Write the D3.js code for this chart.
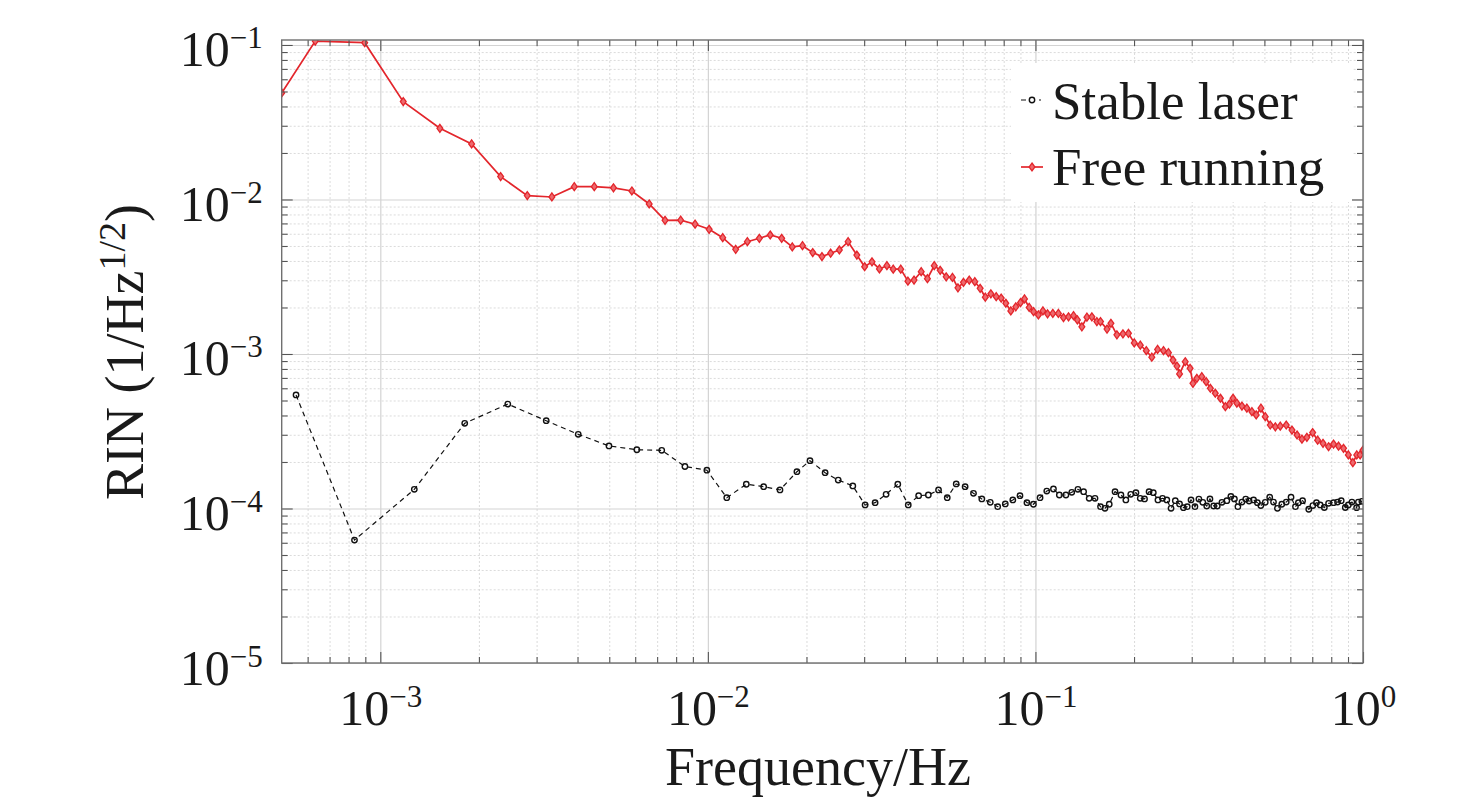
<!DOCTYPE html>
<html>
<head>
<meta charset="utf-8">
<script src="https://cdn.jsdelivr.net/npm/d3@7"></script>
<style>
html, body { margin: 0; padding: 0; background: #fff; overflow: hidden; }
svg { display: block; overflow: visible; }
text { font-family: "Liberation Serif", "Times New Roman", serif; fill: #1a1a1a; }
</style>
</head>
<body>
<script>
// values
var freeFreq = [5.0e-4, 6.33e-4, 8.96e-4, 1.175e-3, 1.52e-3, 1.90e-3, 2.33e-3, 2.81e-3, 3.34e-3, 3.91e-3,
    4.50e-3, 5.15e-3, 5.86e-3, 6.62e-3, 7.40e-3, 8.26e-3, 9.14e-3, 1.009e-2, 1.11e-2, 1.216e-2,
    1.32e-2, 1.436e-2, 1.55e-2, 1.68e-2, 1.81e-2, 1.945e-2, 2.09e-2, 2.23e-2, 2.37e-2, 2.52e-2,
    2.68e-2, 2.85e-2, 3.01e-2, 3.17e-2, 3.34e-2, 3.52e-2, 3.68e-2, 3.88e-2, 4.08e-2, 4.26e-2,
    4.48e-2, 4.68e-2, 4.91e-2, 5.12e-2, 5.34e-2, 5.58e-2, 5.80e-2, 6.03e-2, 6.28e-2, 6.53e-2,
    6.78e-2, 7.03e-2, 7.31e-2, 7.59e-2, 7.86e-2, 8.12e-2, 8.41e-2, 8.71e-2, 9.00e-2, 9.26e-2,
    9.57e-2, 9.87e-2, 0.1021, 0.1054, 0.1089, 0.1130, 0.1175, 0.1218, 0.1262, 0.1307,
    0.1343, 0.1386, 0.1436, 0.1487, 0.154, 0.158, 0.1654, 0.170, 0.1773, 0.185,
    0.1923, 0.2003, 0.209, 0.218, 0.2266, 0.236, 0.246, 0.2547, 0.263, 0.2704,
    0.2754, 0.2866, 0.2966, 0.3026, 0.311, 0.322, 0.332, 0.342, 0.354, 0.367,
    0.380, 0.391, 0.401, 0.412, 0.427, 0.442, 0.458, 0.472, 0.488, 0.503,
    0.521, 0.540, 0.559, 0.583, 0.607, 0.629, 0.651, 0.674, 0.702, 0.727,
    0.755, 0.785, 0.813, 0.842, 0.872, 0.902, 0.931, 0.957, 0.98, 1.0];
var freeRIN = [0.0489, 0.106, 0.1035, 0.0430, 0.0289, 0.0229, 0.01406, 0.0106, 0.01038, 0.01211,
    0.0121, 0.0119, 0.01135, 0.00935, 0.00733, 0.00735, 0.00692, 0.00641, 0.00566, 0.00476,
    0.00533, 0.00561, 0.00589, 0.00561, 0.00493, 0.00502, 0.00453, 0.00427, 0.00449, 0.00471,
    0.00533, 0.00437, 0.00367, 0.00395, 0.00355, 0.00373, 0.00354, 0.00354, 0.00296, 0.00301,
    0.00341, 0.00307, 0.00373, 0.00348, 0.00316, 0.00313, 0.00268, 0.00291, 0.00301, 0.00294,
    0.00266, 0.00233, 0.00245, 0.00235, 0.00230, 0.00213, 0.00190, 0.00202, 0.00215, 0.00227,
    0.00200, 0.00188, 0.00179, 0.00190, 0.00182, 0.00183, 0.00183, 0.00172, 0.00174, 0.00177,
    0.00166, 0.00150, 0.00173, 0.00174, 0.00162, 0.00162, 0.00145, 0.00158, 0.00133, 0.00135,
    0.00136, 0.00118, 0.00114, 0.00105, 0.000953, 0.00107, 0.00105, 0.00102, 0.000914, 0.000836,
    0.000743, 0.000891, 0.000808, 0.000646, 0.000696, 0.000713, 0.000662, 0.000600, 0.000557, 0.000517,
    0.000456, 0.000474, 0.000517, 0.000480, 0.000460, 0.000446, 0.000423, 0.000403, 0.000446, 0.000393,
    0.000347, 0.000338, 0.000341, 0.000347, 0.000322, 0.000299, 0.000281, 0.000289, 0.000310, 0.000277,
    0.000264, 0.000251, 0.000261, 0.000253, 0.000245, 0.000222, 0.000198, 0.000222, 0.000222, 0.000239];

var stableFreq = [5.53e-4, 8.34e-4, 1.27e-3, 1.81e-3, 2.45e-3, 3.21e-3, 4.02e-3, 4.99e-3, 6.07e-3, 7.23e-3,
    8.51e-3, 9.93e-3, 1.142e-2, 1.31e-2, 1.48e-2, 1.66e-2, 1.87e-2, 2.05e-2, 2.28e-2, 2.50e-2,
    2.77e-2, 3.02e-2, 3.24e-2, 3.50e-2, 3.80e-2, 4.09e-2, 4.40e-2, 4.71e-2, 5.06e-2, 5.38e-2,
    5.73e-2, 6.10e-2, 6.47e-2, 6.86e-2, 7.28e-2, 7.67e-2, 8.09e-2, 8.53e-2, 8.97e-2, 9.42e-2,
    9.86e-2, 0.1033, 0.1083, 0.1135, 0.1183, 0.1239, 0.1291, 0.1348, 0.1403, 0.1459,
    0.152, 0.158, 0.163, 0.168, 0.175, 0.1824, 0.1888, 0.1954, 0.2027, 0.2089,
    0.2153, 0.2223, 0.229, 0.2366, 0.2443, 0.2518, 0.2594, 0.2673, 0.2754, 0.283,
    0.2907, 0.2985, 0.3069, 0.3155, 0.3243, 0.3334, 0.341, 0.350, 0.359, 0.371,
    0.384, 0.395, 0.405, 0.415, 0.427, 0.4385, 0.449, 0.4634, 0.476, 0.4875,
    0.503, 0.519, 0.533, 0.548, 0.565, 0.583, 0.603, 0.622, 0.635, 0.654,
    0.683, 0.703, 0.721, 0.740, 0.762, 0.785, 0.813, 0.836, 0.858, 0.883,
    0.902, 0.925, 0.956, 0.968, 0.992];
var stableRIN = [0.000543, 6.25e-5, 0.000133, 0.000356, 0.000474, 0.000370, 0.000302, 0.000254, 0.000240, 0.000238,
    0.000187, 0.000177, 0.0001175, 0.0001435, 0.0001385, 0.0001318, 0.000173, 0.000204, 0.0001706, 0.0001528,
    0.000140, 0.0001054, 0.0001091, 0.0001236, 0.0001435, 0.0001054, 0.000121, 0.0001223, 0.0001318, 0.0001175,
    0.0001442, 0.0001385, 0.0001253, 0.0001153, 0.0001097, 0.0001027, 0.000107, 0.0001136, 0.000121, 0.0001091,
    0.0001065, 0.0001175, 0.0001297, 0.0001337, 0.0001223, 0.0001223, 0.0001273, 0.000133, 0.0001285, 0.0001164,
    0.0001164, 0.0001027, 0.0001003, 0.0001065, 0.0001285, 0.0001223, 0.0001136, 0.0001236, 0.0001265, 0.0001164,
    0.0001153, 0.0001285, 0.0001265, 0.0001136, 0.0001164, 0.0001136, 0.0001003, 0.0001124, 0.000107, 0.0001012,
    0.0001027, 0.0001136, 0.0001027, 0.000115, 0.0001097, 0.0001038, 0.0001153, 0.0001038, 0.0001038, 0.0001097,
    0.0001124, 0.0001197, 0.0001153, 0.0001027, 0.000110, 0.000115, 0.0001118, 0.0001136, 0.0001091, 0.0001045,
    0.0001097, 0.0001183, 0.00011, 0.0001003, 0.0001065, 0.00011, 0.0001183, 0.0001027, 0.0001091, 0.0001124,
    0.0000989, 0.0001045, 0.0001091, 0.0001054, 0.0001015, 0.000108, 0.0001091, 0.00011, 0.0001124, 0.0001015,
    0.0001054, 0.00011, 0.0001012, 0.00011, 0.0001112];

var xMajor = [1e-3, 1e-2, 1e-1, 1];
var xMinor = [6e-4, 7e-4, 8e-4, 9e-4, 2e-3, 3e-3, 4e-3, 5e-3, 6e-3, 7e-3, 8e-3, 9e-3,
    2e-2, 3e-2, 4e-2, 5e-2, 6e-2, 7e-2, 8e-2, 9e-2, 0.2, 0.3, 0.4, 0.5, 0.6, 0.7, 0.8, 0.9];
var yMajor = [1e-5, 1e-4, 1e-3, 1e-2, 1e-1];
var yMinor = [2e-5, 3e-5, 4e-5, 5e-5, 6e-5, 7e-5, 8e-5, 9e-5, 2e-4, 3e-4, 4e-4, 5e-4, 6e-4, 7e-4, 8e-4, 9e-4,
    2e-3, 3e-3, 4e-3, 5e-3, 6e-3, 7e-3, 8e-3, 9e-3, 2e-2, 3e-2, 4e-2, 5e-2, 6e-2, 7e-2, 8e-2, 9e-2];

var seriesNames = ["Stable laser", "Free running"];

var width = 1476;
var height = 804;
var margin = {top: 40, right: 113, bottom: 141, left: 281.7};
var innerWidth = width - margin.left - margin.right;
var innerHeight = height - margin.top - margin.bottom;

var red = "#e3262c";

var svg = d3.select("body")
    .append("svg")
        .attr("width", width)
        .attr("height", height)
        .attr("viewBox", "0 0 " + width + " " + height);

const g = svg.append("g")
    .attr("transform", "translate(" + margin.left + ", " + margin.top + ")");

//Scales
var x = d3.scaleLog()
    .domain([5e-4, 1])
    .range([0, innerWidth]);

var y = d3.scaleLog()
    .domain([1e-5, 0.1077])
    .range([innerHeight, 0]);

//Grid
g.append("g")
    .attr("class", "grid-minor")
    .attr("transform", "translate(0, " + innerHeight + ")")
    .call(d3.axisBottom(x).tickValues(xMinor).tickSize(-innerHeight).tickFormat(""));
g.append("g")
    .attr("class", "grid-minor")
    .call(d3.axisLeft(y).tickValues(yMinor).tickSize(-innerWidth).tickFormat(""));
g.append("g")
    .attr("class", "grid-major")
    .attr("transform", "translate(0, " + innerHeight + ")")
    .call(d3.axisBottom(x).tickValues(xMajor).tickSize(-innerHeight).tickFormat(""));
g.append("g")
    .attr("class", "grid-major")
    .call(d3.axisLeft(y).tickValues(yMajor).tickSize(-innerWidth).tickFormat(""));

g.selectAll(".grid-minor line")
    .attr("stroke", "#d2d2d2")
    .attr("stroke-width", 0.8)
    .attr("stroke-dasharray", "2,2");
g.selectAll(".grid-major line")
    .attr("stroke", "#d3d3d3")
    .attr("stroke-width", 1.2);
g.selectAll(".grid-minor .domain, .grid-major .domain, .grid-minor text, .grid-major text").remove();

//Clip
g.append("clipPath")
    .attr("id", "plot-clip")
  .append("rect")
    .attr("width", innerWidth)
    .attr("height", innerHeight);

var plot = g.append("g").attr("clip-path", "url(#plot-clip)");

var line = d3.line()
    .x(d => x(d[0]))
    .y(d => y(d[1]));

var freeData = freeFreq.map((f, i) => [f, freeRIN[i]]);
var stableData = stableFreq.map((f, i) => [f, stableRIN[i]]);

var diamond = "M0,-4L2.9,0L0,4L-2.9,0Z";

//Free running
plot.append("path")
    .datum(freeData)
    .attr("fill", "none")
    .attr("stroke", red)
    .attr("stroke-width", 1.7)
    .attr("d", line);

plot.selectAll(".free-pt")
    .data(freeData)
    .enter()
    .append("path")
        .attr("class", "free-pt")
        .attr("d", diamond)
        .attr("transform", d => "translate(" + x(d[0]) + "," + y(d[1]) + ")")
        .attr("fill", "#ee6a6e")
        .attr("stroke", red)
        .attr("stroke-width", 1.3);

//Stable laser
plot.append("path")
    .datum(stableData)
    .attr("fill", "none")
    .attr("stroke", "#111")
    .attr("stroke-width", 1.2)
    .attr("stroke-dasharray", "5,4")
    .attr("d", line);

plot.selectAll(".stable-pt")
    .data(stableData)
    .enter()
    .append("circle")
        .attr("class", "stable-pt")
        .attr("cx", d => x(d[0]))
        .attr("cy", d => y(d[1]))
        .attr("r", 2.7)
        .attr("fill", "none")
        .attr("stroke", "#111")
        .attr("stroke-width", 1.4);

//Legend
var legend = svg.append("g")
    .attr("transform", "translate(1011, 63)");

legend.append("rect")
    .attr("width", 341)
    .attr("height", 139)
    .attr("fill", "#fff");

legend.append("line")
    .attr("x1", 10).attr("x2", 30)
    .attr("y1", 37).attr("y2", 37)
    .attr("stroke", "#111")
    .attr("stroke-width", 1.2)
    .attr("stroke-dasharray", "5,4");
legend.append("circle")
    .attr("cx", 21).attr("cy", 37).attr("r", 2.7)
    .attr("fill", "#fff")
    .attr("stroke", "#111")
    .attr("stroke-width", 1.4);

legend.append("line")
    .attr("x1", 10).attr("x2", 32)
    .attr("y1", 104).attr("y2", 104)
    .attr("stroke", red)
    .attr("stroke-width", 1.7);
legend.append("path")
    .attr("d", diamond)
    .attr("transform", "translate(21, 104)")
    .attr("fill", "#ee6a6e")
    .attr("stroke", red)
    .attr("stroke-width", 1.3);

legend.selectAll(".legend-label")
    .data(seriesNames)
    .enter()
    .append("text")
        .attr("class", "legend-label")
        .attr("x", 41)
        .attr("y", (d, i) => 56 + i * 66)
        .attr("font-size", 53)
        .text(d => d);

//Axes (ticks inside, all four sides)
function powLabel(d) {
    var e = Math.round(Math.log10(d));
    var t = d3.select(this);
    t.text(null);
    t.append("tspan").text("10");
    t.append("tspan")
        .attr("font-size", 31)
        .attr("dy", -18)
        .text(e < 0 ? "\u2212" + (-e) : String(e));
}

var xAxisGroup = g.append("g")
    .attr("class", "x-axis")
    .attr("transform", "translate(0, " + innerHeight + ")")
    .call(d3.axisBottom(x).tickValues(xMajor).tickSize(-11).tickSizeOuter(0).tickPadding(0));
xAxisGroup.selectAll(".tick text")
    .attr("y", 62)
    .attr("dy", null)
    .attr("font-size", 50)
    .each(powLabel);

g.append("g")
    .attr("class", "x-axis-minor")
    .attr("transform", "translate(0, " + innerHeight + ")")
    .call(d3.axisBottom(x).tickValues(xMinor).tickSize(-6).tickFormat(""));
g.append("g")
    .attr("class", "top-axis")
    .call(d3.axisTop(x).tickValues(xMajor).tickSize(-11).tickFormat(""));
g.append("g")
    .attr("class", "top-axis")
    .call(d3.axisTop(x).tickValues(xMinor).tickSize(-6).tickFormat(""));

var yAxisGroup = g.append("g")
    .attr("class", "y-axis")
    .call(d3.axisLeft(y).tickValues(yMajor).tickSize(-11).tickSizeOuter(0).tickPadding(19));
yAxisGroup.selectAll(".tick text")
    .attr("y", 21)
    .attr("dy", null)
    .attr("font-size", 50)
    .each(powLabel);

g.append("g")
    .attr("class", "y-axis-minor")
    .call(d3.axisLeft(y).tickValues(yMinor).tickSize(-6).tickFormat(""));
g.append("g")
    .attr("class", "right-axis")
    .attr("transform", "translate(" + innerWidth + ", 0)")
    .call(d3.axisRight(y).tickValues(yMajor).tickSize(-11).tickFormat(""));
g.append("g")
    .attr("class", "right-axis")
    .attr("transform", "translate(" + innerWidth + ", 0)")
    .call(d3.axisRight(y).tickValues(yMinor).tickSize(-6).tickFormat(""));

g.selectAll(".x-axis .domain, .x-axis-minor .domain, .top-axis .domain, .y-axis .domain, .y-axis-minor .domain, .right-axis .domain").remove();
g.selectAll(".x-axis-minor text, .top-axis text, .y-axis-minor text, .right-axis text").remove();
g.selectAll(".x-axis line, .x-axis-minor line, .top-axis line, .y-axis line, .y-axis-minor line, .right-axis line")
    .attr("stroke", "#555")
    .attr("stroke-width", 1.1);

//Box
g.append("rect")
    .attr("width", innerWidth)
    .attr("height", innerHeight)
    .attr("fill", "none")
    .attr("stroke", "#707070")
    .attr("stroke-width", 1.4);

//Labels
svg.append("text")
    .attr("class", "x-axis-label")
    .attr("x", 818)
    .attr("y", 785)
    .attr("text-anchor", "middle")
    .attr("font-size", 54)
    .text("Frequency/Hz");

const yLabel = svg.append("text")
    .attr("class", "y-axis-label")
    .attr("transform", "translate(143, 352) rotate(-90)")
    .attr("text-anchor", "middle")
    .attr("font-size", 54);
yLabel.append("tspan").text("RIN (1/Hz");
yLabel.append("tspan").attr("font-size", 38).attr("dy", -18).text("1/2");
yLabel.append("tspan").attr("dy", 18).text(")");
</script>
</body>
</html>
